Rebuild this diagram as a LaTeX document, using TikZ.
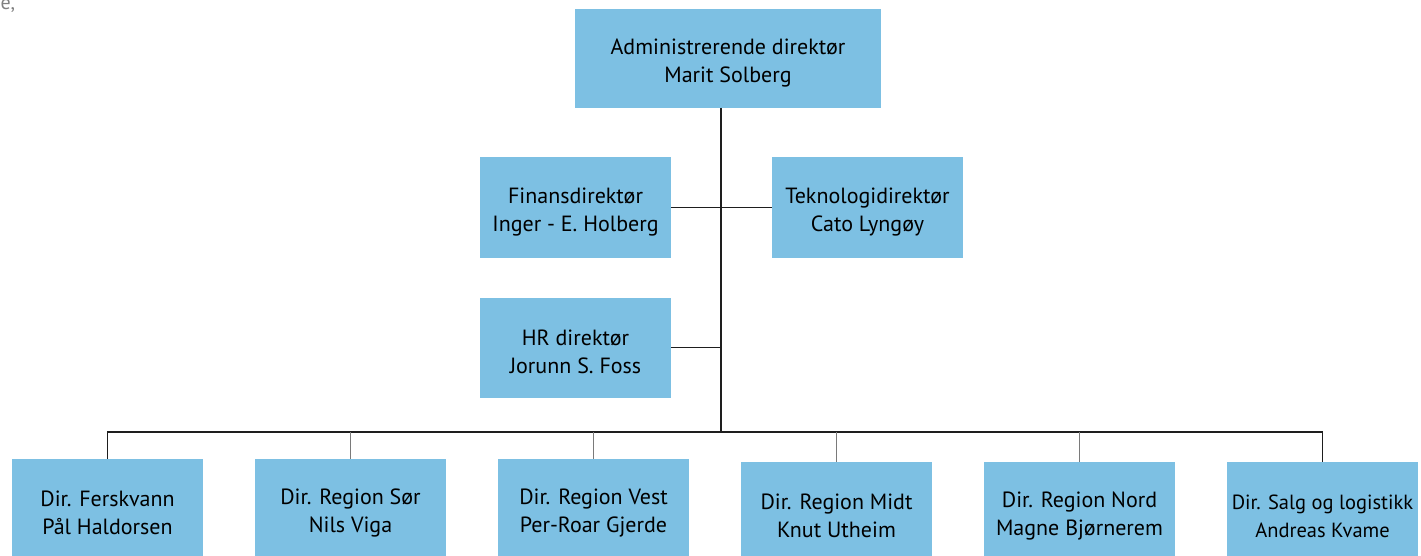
\documentclass[tikz,border=0pt]{standalone}
\usepackage{fontspec}
\setmainfont{PT Sans}
\definecolor{boxblue}{HTML}{7DC0E3}
\definecolor{darkline}{HTML}{1E1E1E}
\definecolor{greyline}{HTML}{7A7A7A}
\newcommand\toplift{\rule{0pt}{24pt}}
\tikzset{
  orgbox/.style={fill=boxblue, draw=none, inner sep=0pt, align=center,
    font=\fontsize{22}{28}\selectfont, text=black},
  midbox/.style={orgbox, minimum width=191pt, minimum height=100pt},
  topbox/.style={orgbox, minimum width=306pt, minimum height=99pt},
  mainline/.style={draw=darkline, line width=1.6pt},
  dropline/.style={draw=greyline, line width=1.3pt}
}
\begin{document}
\begin{tikzpicture}[x=1pt,y=-1pt]
\useasboundingbox (0,0) rectangle (1421,556);
\clip (0,0) rectangle (1421,556);
\node[anchor=base west, text=gray, font=\fontsize{20}{24}\selectfont] (corner) at (-3,10) {e,};
\node[topbox] (ceo) at (728,58.5) {\toplift Administrerende direktør\\Marit Solberg};
\node[midbox] (fin) at (575.5,207.5) {\toplift Finansdirektør\\Inger - E. Holberg};
\node[midbox] (tek) at (867.5,207.5) {\toplift Teknologidirektør\\Cato Lyngøy};
\node[midbox] (hr) at (575.5,347.5) {\toplift HR direktør\\Jorunn S. Foss};
\node[midbox] (fer) at (107.5,509) {\toplift Dir. Ferskvann\\Pål Haldorsen};
\node[midbox] (sor) at (350.5,509) {\toplift Dir. Region Sør\\Nils Viga};
\node[midbox] (ves) at (593.5,509) {\toplift Dir. Region Vest\\Per-Roar Gjerde};
\node[midbox] (mid) at (836.5,512) {\toplift Dir. Region Midt\\Knut Utheim};
\node[midbox] (nor) at (1079.5,512) {\toplift Dir. Region Nord\\Magne Bjørnerem};
\node[midbox, font=\fontsize{20.5}{28}\selectfont] (sal) at (1322.5,512) {\toplift Dir. Salg og logistikk\\Andreas Kvame};
\coordinate (bus) at (721,431.7);
\coordinate (trunktop) at (721,108);
% trunk and staff lines
\draw[mainline] (trunktop) -- (bus);
\draw[mainline] (fin.east) -- (tek.west);
\draw[mainline] (hr.east) -- (hr.east -| bus);
% bus
\draw[mainline] (fer.north) |- (bus) -| (sal.north);
% drops
\draw[dropline] (sor.north) -- (sor.north |- bus);
\draw[dropline] (ves.north) -- (ves.north |- bus);
\draw[dropline] (mid.north) -- (mid.north |- bus);
\draw[dropline] (nor.north) -- (nor.north |- bus);
\end{tikzpicture}
\end{document}
